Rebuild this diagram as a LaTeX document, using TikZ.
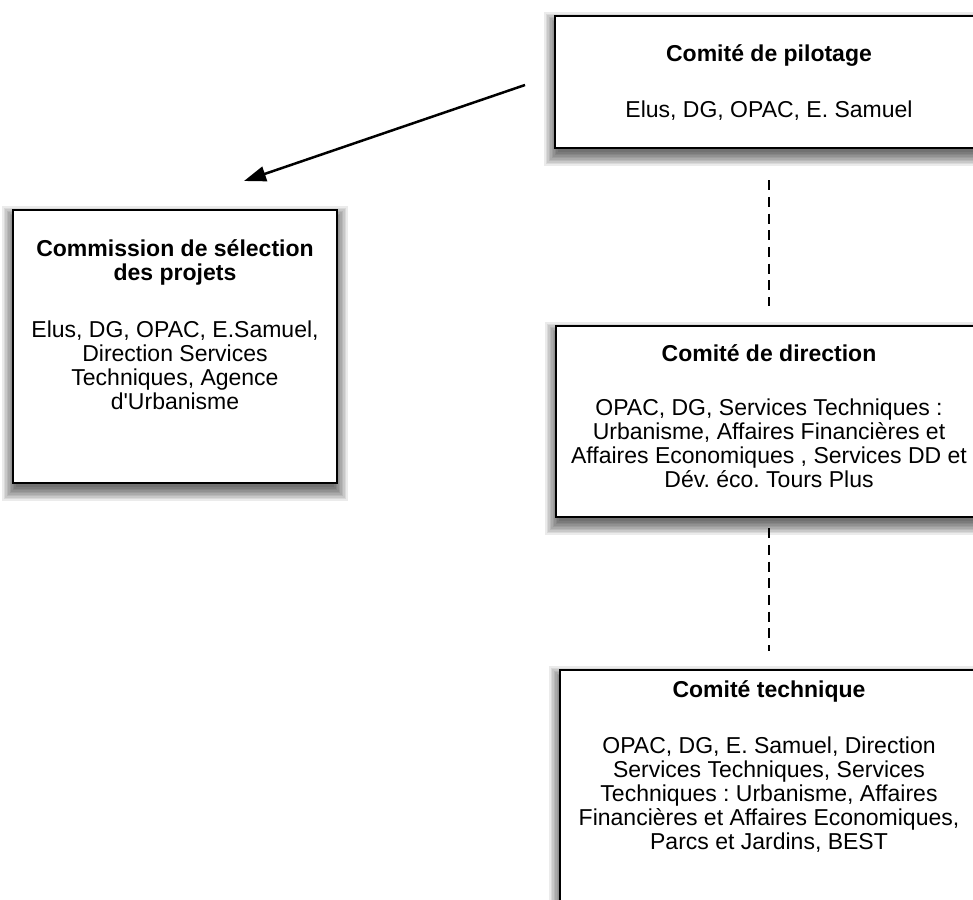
\documentclass[tikz,border=0pt]{standalone}
\usepackage{fontspec}
\setmainfont{Liberation Sans}
\newfontfamily\hv{Liberation Sans}
\usetikzlibrary{arrows.meta,calc}
\tikzset{
  boxst/.style={draw=black, line width=2.2pt, fill=white, inner sep=0pt, rectangle},
  txt/.style={anchor=base, inner sep=0pt, align=center, font=\hv\fontsize{23}{24}\selectfont\frenchspacing},
  ttl/.style={txt, font=\hv\fontsize{23}{24}\selectfont\bfseries},
  dashline/.style={line width=2pt, dash pattern=on 10pt off 6.7pt},
  arrowline/.style={line width=2.5pt, -{Triangle[length=22pt,width=15pt]}},
}
\newcommand{\softshadow}[1]{%
  \foreach \e in {-3,-1.5,...,10.5}{%
    \fill[black, opacity=0.08] ($(#1.north west)+(-\e,7-\e)$) rectangle ($(#1.south east)+(\e,7+\e)$);
  }%
}
\begin{document}
\begin{tikzpicture}[x=1pt,y=-1pt]
\useasboundingbox (0,0) rectangle (973,899);
\clip (0,0) rectangle (973,899);
% box geometry (coordinates only)
\coordinate (pc) at (769,82);
\coordinate (cc) at (175,346.5);
\coordinate (dc) at (769,421.5);
\coordinate (tc) at (769,815);
\path node[minimum width=428pt, minimum height=132pt, inner sep=0pt] (p0) at (pc) {};
\path node[minimum width=324pt, minimum height=273pt, inner sep=0pt] (c0) at (cc) {};
\path node[minimum width=426pt, minimum height=191pt, inner sep=0pt] (d0) at (dc) {};
\path node[minimum width=418pt, minimum height=290pt, inner sep=0pt] (t0) at (tc) {};
\softshadow{p0}
\softshadow{c0}
\softshadow{d0}
\softshadow{t0}
% boxes
\node[boxst, minimum width=428pt, minimum height=132pt] (p) at (pc) {};
\node[boxst, minimum width=324pt, minimum height=273pt] (c) at (cc) {};
\node[boxst, minimum width=426pt, minimum height=191pt] (d) at (dc) {};
\node[boxst, minimum width=418pt, minimum height=290pt] (t) at (tc) {};
% texts (base = baseline of last line)
\node[ttl] (pt) at (769,62) {Comité de pilotage};
\node[txt] (pb) at (769,117) {Elus, DG, OPAC, E. Samuel};
\node[ttl] (ct) at (175,280) {Commission de sélection\\des projets};
\node[txt] (cb) at (175,409) {Elus, DG, OPAC, E.Samuel,\\Direction Services\\Techniques, Agence\\d'Urbanisme};
\node[ttl] (dt) at (769,361) {Comité de direction};
\node[txt] (db) at (769,487) {OPAC, DG, Services Techniques :\\Urbanisme, Affaires Financières et\\Affaires Economiques , Services DD et\\Dév. éco. Tours Plus};
\node[ttl] (tt) at (769,697) {Comité technique};
\node[txt] (tb) at (769,849) {OPAC, DG, E. Samuel, Direction\\Services Techniques, Services\\Techniques : Urbanisme, Affaires\\Financières et Affaires Economiques,\\Parcs et Jardins, BEST};
% connectors
\draw[dashline] ([yshift=-31pt]p.south) -- ([yshift=19pt]d.north);
\draw[dashline] ([yshift=-10pt]d.south) -- ([yshift=18pt]t.north);
\coordinate (a1) at (525,85);
\coordinate (a2) at (244,181);
\draw[arrowline] (a1) -- (a2);
\end{tikzpicture}
\end{document}
